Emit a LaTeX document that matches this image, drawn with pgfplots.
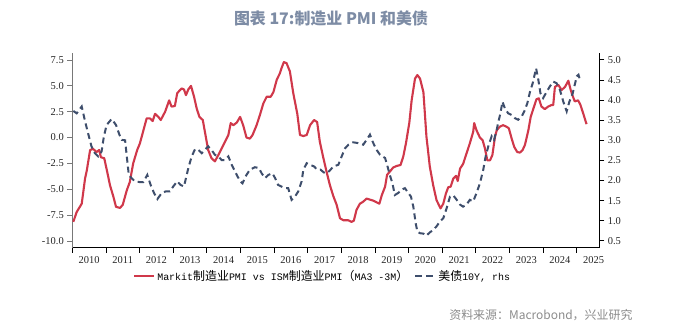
\documentclass[border=0pt]{standalone}
\usepackage{pgfplots}
\pgfplotsset{compat=1.18}
\usepackage{fontspec}
\setmainfont{Liberation Serif}
\newfontfamily\cjk{Noto Sans CJK SC}
\newfontfamily\mono{Liberation Mono}
\definecolor{pmired}{RGB}{208,56,74}
\definecolor{bondnavy}{RGB}{62,78,108}
\definecolor{titlecol}{RGB}{125,140,165}
\definecolor{srccol}{RGB}{140,140,140}
\definecolor{axgray}{RGB}{120,120,120}
\newcommand{\lc}[1]{{\cjk\fontsize{12}{12}\selectfont #1}}

\begin{document}
\begin{tikzpicture}
\path[fill=white,use as bounding box] (0bp,0bp) rectangle (676bp,329bp);
\node[font=\cjk\bfseries\fontsize{16}{18}\selectfont, text=titlecol] at (331bp,311bp) {图表 17:制造业 PMI 和美债};
\node[anchor=east, font=\cjk\fontsize{12}{14}\selectfont, text=srccol] at (636bp,14bp) {资料来源：Macrobond，兴业研究};

\begin{axis}[
  at={(72.3bp,81.3bp)}, anchor=south west, scale only axis,
  width=527bp, height=194.7bp,
  xmin=2010, xmax=2025.67, ymin=-10.65, ymax=8.18,
  axis y line*=left, axis x line*=bottom,
  axis line style={-},
  x axis line style={black},
  y axis line style={axgray, line width=0.8bp},
  tick align=outside,
  xtick={2010.5,2011.5,2012.5,2013.5,2014.5,2015.5,2016.5,2017.5,2018.5,2019.5,2020.5,2021.5,2022.5,2023.5,2024.5,2025.5},
  xticklabels={2010,2011,2012,2013,2014,2015,2016,2017,2018,2019,2020,2021,2022,2023,2024,2025},
  major x tick style={draw=none},
  minor xtick={2010,2011,...,2025},
  minor tick length=5bp,
  minor x tick style={black, line width=0.8bp},
  ytick={-10,-7.5,-5,-2.5,0,2.5,5,7.5},
  major tick length=5bp,
  y tick style={axgray, line width=0.8bp},
  tick label style={font=\fontsize{10.5}{12}\selectfont, text=black!85},
  yticklabel style={/pgf/number format/.cd, fixed, fixed zerofill, precision=1, assume math mode=true},
  legend style={at={(0.475,-0.145)}, anchor=center, legend columns=2, draw=none, fill=none,
    font=\mono\fontsize{10}{12}\selectfont,
    /tikz/every even column/.append style={column sep=4bp}},
  legend image code/.code={\draw[#1] (0bp,0bp) -- (20bp,0bp);},
]
\addplot[pmired, line width=2.1bp, line join=round] coordinates {
(2010.03,-8.15)(2010.13,-7.2)(2010.28,-6.4)(2010.38,-3.95)(2010.43,-3.2)(2010.53,-1.2)(2010.62,-1.1)(2010.72,-1.4)(2010.80,-1.2)(2010.85,-1.9)(2010.95,-2.0)
(2011.05,-3.5)(2011.12,-4.6)(2011.22,-5.7)(2011.30,-6.7)(2011.42,-6.8)(2011.50,-6.5)(2011.62,-5.1)(2011.71,-4.3)(2011.81,-2.5)(2011.93,-1.2)
(2012.01,-0.56)(2012.09,0.4)(2012.21,1.85)(2012.31,1.85)(2012.39,1.6)(2012.46,2.3)(2012.56,2.0)(2012.63,1.7)(2012.76,2.5)(2012.88,3.6)(2012.95,3.0)
(2013.05,3.05)(2013.12,4.3)(2013.25,4.75)(2013.32,4.66)(2013.38,4.1)(2013.45,4.66)(2013.53,5.0)(2013.62,3.95)(2013.70,2.8)(2013.78,2.0)(2013.88,1.7)(2013.96,0.25)
(2014.04,-1.2)(2014.14,-2.0)(2014.24,-2.3)(2014.34,-1.7)(2014.44,-1.05)(2014.54,-0.4)(2014.64,0.25)(2014.71,1.4)(2014.79,1.2)(2014.89,1.45)(2014.99,2.0)
(2015.08,1.2)(2015.18,0.0)(2015.28,-0.1)(2015.36,0.25)(2015.48,1.2)(2015.58,2.2)(2015.68,3.3)(2015.78,3.95)(2015.90,3.95)(2015.98,4.4)
(2016.08,5.6)(2016.17,6.2)(2016.22,6.7)(2016.29,7.3)(2016.37,7.2)(2016.47,6.4)(2016.57,4.3)(2016.69,2.3)(2016.77,0.25)(2016.87,0.15)(2016.97,0.25)
(2017.07,1.2)(2017.19,1.7)(2017.28,1.5)(2017.36,-0.4)(2017.46,-1.9)(2017.56,-3.3)(2017.66,-4.6)(2017.76,-5.65)(2017.86,-6.5)(2017.96,-7.8)
(2018.06,-8.0)(2018.21,-8.0)(2018.30,-8.15)(2018.37,-8.05)(2018.45,-7.0)(2018.55,-6.4)(2018.65,-6.2)(2018.75,-5.9)(2018.85,-6.0)(2018.95,-6.1)
(2019.13,-6.4)(2019.20,-5.6)(2019.30,-4.75)(2019.36,-3.6)(2019.44,-3.3)(2019.54,-2.9)(2019.64,-2.75)(2019.76,-2.65)(2019.84,-1.85)(2019.92,-0.56)
(2020.02,1.4)(2020.09,3.6)(2020.19,5.7)(2020.26,6.05)(2020.34,5.7)(2020.44,4.4)(2020.53,0.1)(2020.63,-2.8)(2020.73,-4.6)(2020.83,-6.05)(2020.95,-6.85)
(2021.03,-6.4)(2021.11,-5.4)(2021.18,-4.8)(2021.25,-4.75)(2021.33,-3.95)(2021.41,-3.7)(2021.46,-4.2)(2021.53,-3.0)(2021.62,-2.55)(2021.72,-1.55)(2021.82,-0.56)(2021.92,0.55)(2021.95,1.4)
(2022.02,0.7)(2022.12,0.0)(2022.20,-0.25)(2022.27,-1.05)(2022.34,-2.2)(2022.42,-2.2)(2022.49,-1.7)(2022.57,0.1)(2022.62,0.7)(2022.71,1.05)(2022.81,1.2)(2022.91,1.05)(2022.98,0.9)
(2023.06,-0.05)(2023.14,-0.9)(2023.23,-1.4)(2023.31,-1.45)(2023.39,-1.2)(2023.46,-0.7)(2023.56,0.7)(2023.63,2.0)(2023.71,2.8)(2023.80,3.7)(2023.87,3.8)(2023.95,3.0)
(2024.05,2.75)(2024.15,3.0)(2024.25,3.15)(2024.30,3.15)(2024.35,4.9)(2024.45,5.1)(2024.55,4.6)(2024.65,4.9)(2024.75,5.5)(2024.82,4.6)(2024.87,4.1)(2024.94,3.5)
(2025.04,3.6)(2025.11,3.15)(2025.19,2.35)(2025.29,1.3)
};
\addlegendentry{Markit\lc{制造业}PMI vs ISM\lc{制造业}PMI\lc{（}MA3 -3M\lc{）}}
\addlegendimage{bondnavy, line width=2bp, dash pattern=on 7bp off 4bp}
\addlegendentry{\lc{美债}10Y, rhs}
\end{axis}

\begin{axis}[
  at={(72.3bp,81.3bp)}, anchor=south west, scale only axis,
  width=527bp, height=194.7bp,
  xmin=2010, xmax=2025.67, ymin=0.33, ymax=5.17,
  axis y line*=right, axis x line=none,
  axis line style={-, black, line width=0.8bp},
  tick align=outside,
  ytick={0.5,1,1.5,2,2.5,3,3.5,4,4.5,5},
  major tick length=5bp,
  y tick style={black, line width=0.8bp},
  tick label style={font=\fontsize{10.5}{12}\selectfont, text=black!85},
  yticklabel style={/pgf/number format/.cd, fixed, fixed zerofill, precision=1, assume math mode=true},
]
\addplot[bondnavy, line width=2bp, dash pattern=on 6bp off 4bp] coordinates {
(2010.03,3.73)(2010.13,3.67)(2010.28,3.84)(2010.38,3.47)(2010.48,3.14)(2010.57,2.85)(2010.67,2.68)(2010.77,2.60)(2010.87,2.72)(2010.94,3.10)
(2011.02,3.38)(2011.17,3.53)(2011.30,3.38)(2011.40,3.14)(2011.47,3.01)(2011.57,3.00)(2011.62,2.60)(2011.68,2.14)(2011.76,2.06)(2011.86,1.98)
(2012.01,1.96)(2012.11,1.96)(2012.23,2.14)(2012.33,1.89)(2012.43,1.69)(2012.53,1.54)(2012.66,1.69)(2012.78,1.73)(2012.90,1.73)
(2013.00,1.85)(2013.12,1.98)(2013.22,1.89)(2013.32,1.85)(2013.38,2.06)(2013.45,2.31)(2013.55,2.60)(2013.65,2.78)(2013.75,2.76)(2013.85,2.68)(2013.94,2.76)
(2014.04,2.85)(2014.14,2.76)(2014.24,2.64)(2014.34,2.60)(2014.44,2.51)(2014.54,2.51)(2014.64,2.60)(2014.74,2.39)(2014.84,2.22)(2014.99,1.98)
(2015.06,1.93)(2015.18,2.14)(2015.28,2.27)(2015.43,2.33)(2015.55,2.31)(2015.63,2.18)(2015.73,2.06)(2015.83,2.14)(2015.95,2.18)
(2016.03,2.06)(2016.12,1.89)(2016.22,1.85)(2016.32,1.81)(2016.42,1.81)(2016.52,1.52)(2016.62,1.60)(2016.72,1.73)(2016.82,1.98)(2016.87,2.27)(2016.97,2.43)
(2017.07,2.39)(2017.19,2.35)(2017.28,2.27)(2017.38,2.27)(2017.48,2.20)(2017.56,2.18)(2017.66,2.25)(2017.76,2.35)(2017.91,2.39)
(2018.01,2.60)(2018.11,2.80)(2018.21,2.89)(2018.35,2.95)(2018.50,2.93)(2018.65,2.89)(2018.75,3.01)(2018.85,3.14)(2018.95,2.93)
(2019.05,2.76)(2019.15,2.64)(2019.30,2.56)(2019.36,2.39)(2019.44,2.14)(2019.52,1.93)(2019.59,1.64)(2019.69,1.69)(2019.79,1.77)(2019.89,1.81)(2019.99,1.69)
(2020.07,1.60)(2020.14,1.35)(2020.21,0.94)(2020.26,0.73)(2020.34,0.69)(2020.44,0.68)(2020.53,0.63)(2020.63,0.71)(2020.73,0.77)(2020.83,0.86)(2020.93,0.98)
(2021.03,1.06)(2021.13,1.31)(2021.23,1.60)(2021.33,1.63)(2021.43,1.52)(2021.53,1.40)(2021.62,1.35)(2021.72,1.40)(2021.82,1.52)(2021.92,1.48)
(2022.02,1.69)(2022.12,1.93)(2022.22,2.27)(2022.29,2.60)(2022.37,2.85)(2022.47,3.10)(2022.54,3.01)(2022.62,3.26)(2022.66,3.43)(2022.73,3.67)(2022.79,3.96)(2022.86,3.80)(2022.96,3.67)
(2023.06,3.63)(2023.16,3.55)(2023.26,3.51)(2023.36,3.59)(2023.44,3.72)(2023.53,3.92)(2023.61,4.21)(2023.69,4.42)(2023.79,4.79)(2023.85,4.54)(2023.92,4.17)
(2024.00,4.05)(2024.08,4.17)(2024.20,4.34)(2024.30,4.46)(2024.40,4.42)(2024.50,4.25)(2024.60,3.96)(2024.70,3.72)(2024.78,3.96)(2024.88,4.17)
(2025.00,4.59)(2025.05,4.63)(2025.11,4.46)
};
\end{axis}
\end{tikzpicture}
\end{document}
